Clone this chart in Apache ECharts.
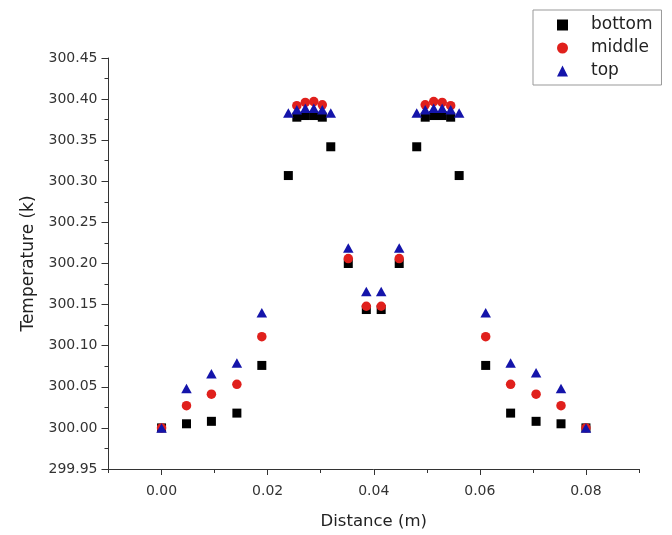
<!DOCTYPE html>
<html>
<head>
<meta charset="utf-8">
<script src="https://cdn.jsdelivr.net/npm/echarts@6/dist/echarts.min.js"></script>
<style>html,body{margin:0;padding:0;background:#fff}#c{width:672px;height:535px}</style>
</head>
<body>
<div id="c"></div>
<script>
const distance = [0, 0.0047, 0.0094, 0.0142, 0.0189, 0.0239, 0.0255, 0.0271, 0.0287, 0.0303, 0.0319, 0.0352, 0.0386, 0.0414, 0.0448, 0.0481, 0.0497, 0.0513, 0.0529, 0.0545, 0.0561, 0.0611, 0.0658, 0.0706, 0.0753, 0.08];
const bottomT = [300.000, 300.005, 300.008, 300.018, 300.076, 300.307, 300.378, 300.380, 300.380, 300.378, 300.342, 300.200, 300.144, 300.144, 300.200, 300.342, 300.378, 300.380, 300.380, 300.378, 300.307, 300.076, 300.018, 300.008, 300.005, 300.000];
const middleT = [300.000, 300.027, 300.041, 300.053, 300.111, null, 300.392, 300.396, 300.397, 300.393, null, 300.206, 300.148, 300.148, 300.206, null, 300.393, 300.397, 300.396, 300.392, null, 300.111, 300.053, 300.041, 300.027, 300.000];
const topT = [300.000, 300.048, 300.066, 300.079, 300.140, 300.383, 300.387, 300.389, 300.389, 300.387, 300.383, 300.219, 300.166, 300.166, 300.219, 300.383, 300.387, 300.389, 300.389, 300.387, 300.383, 300.140, 300.079, 300.067, 300.048, 300.000];
const seriesNames = ['bottom', 'middle', 'top'];
const xMajorTicks = [0, 0.02, 0.04, 0.06, 0.08];
const xMinorTicks = [-0.01, 0.01, 0.03, 0.05, 0.07, 0.09];

const FONT = 'DejaVu Sans';
function pairs(ys) {
  const out = [];
  for (let i = 0; i < distance.length; i++) if (ys[i] !== null) out.push([distance[i], ys[i]]);
  return out;
}
const chart = echarts.init(document.getElementById('c'), null, {renderer: 'canvas'});
chart.setOption({
  animation: false,
  backgroundColor: '#ffffff',
  grid: {left: 108.5, right: 33, top: 58, bottom: 63, containLabel: false},
  legend: {
    data: seriesNames, orient: 'vertical', left: 533, top: 10,
    padding: [6, 9, 5, 24], itemWidth: 11, itemHeight: 11, itemGap: 5,
    borderColor: '#999', borderWidth: 1,
    textStyle: {fontFamily: FONT, fontSize: 17, color: '#222', lineHeight: 18, padding: [0, 0, 0, 18]}
  },
  xAxis: [{
    type: 'value', min: -0.01, max: 0.09, position: 'bottom',
    name: 'Distance (m)', nameLocation: 'middle', nameGap: 44,
    nameTextStyle: {fontFamily: FONT, fontSize: 16.5, color: '#222'},
    axisLine: {show: true, onZero: false, lineStyle: {color: '#333', width: 1}},
    axisTick: {show: true, length: 6, customValues: xMajorTicks, lineStyle: {color: '#333'}},
    axisLabel: {customValues: xMajorTicks, margin: 15, fontFamily: FONT, fontSize: 14, color: '#333',
      formatter: v => v.toFixed(2)},
    splitLine: {show: false}
  }, {
    type: 'value', min: -0.01, max: 0.09, position: 'bottom', gridIndex: 0,
    axisLine: {show: false, onZero: false},
    axisTick: {show: true, length: 4, customValues: xMinorTicks, lineStyle: {color: '#333'}},
    axisLabel: {show: false},
    splitLine: {show: false}
  }],
  yAxis: {
    type: 'value', min: 299.95, max: 300.45, interval: 0.05,
    name: 'Temperature (k)', nameLocation: 'middle', nameGap: 71, nameRotate: 90,
    nameTextStyle: {fontFamily: FONT, fontSize: 17, color: '#222'},
    axisLine: {show: true, onZero: false, lineStyle: {color: '#333', width: 1}},
    axisTick: {show: true, length: 7, lineStyle: {color: '#333'}},
    minorTick: {show: true, splitNumber: 2, length: 4, lineStyle: {color: '#333'}},
    axisLabel: {margin: 11, fontFamily: FONT, fontSize: 14, color: '#333', formatter: v => v.toFixed(2)},
    splitLine: {show: false}
  },
  series: [
    {name: 'bottom', type: 'scatter', symbol: 'rect', symbolSize: 9, itemStyle: {color: '#000000', opacity: 1}, data: pairs(bottomT)},
    {name: 'middle', type: 'scatter', symbol: 'circle', symbolSize: 9.5, itemStyle: {color: '#e0201c', opacity: 1}, data: pairs(middleT)},
    {name: 'top', type: 'scatter', symbol: 'triangle', symbolSize: [10.5, 9.5], itemStyle: {color: '#1414aa', opacity: 1}, data: pairs(topT)}
  ]
});
</script>
</body>
</html>
